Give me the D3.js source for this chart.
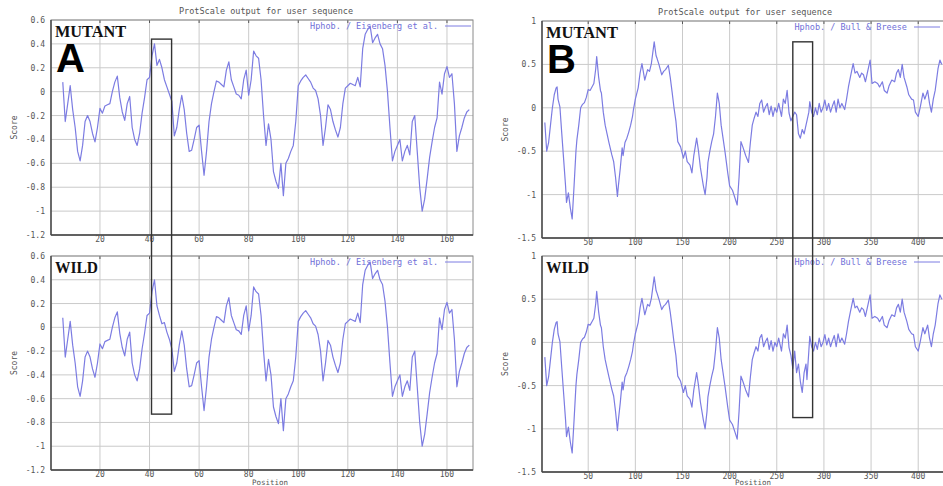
<!DOCTYPE html>
<html>
  <head>
    <meta charset="utf-8" />
    <script src="https://d3js.org/d3.v7.min.js"></script>
    <style>
      body { margin: 0; background: #fff; }
      .tick-label { font-family: "DejaVu Sans Mono", monospace; font-size: 8px; fill: #555; }
      .title { font-family: "DejaVu Sans Mono", monospace; font-size: 8.5px; fill: #555; }
      .xlabel { font-family: "DejaVu Sans Mono", monospace; font-size: 7.5px; fill: #555; }
      .legend { font-family: "DejaVu Sans Mono", monospace; font-size: 8.5px; fill: #7070d8; }
      .grid { stroke: #cacaca; stroke-width: 1; }
      .frame { fill: none; stroke: #8a8a8a; stroke-width: 1; }
      .axis-line { stroke: #444; stroke-width: 1.4; }
      .curve { fill: none; stroke: #7c7ce2; stroke-width: 1.2; stroke-linejoin: round; }
      .box { fill: none; stroke: #333; stroke-width: 1.4; }
      .name { font-family: "Liberation Serif", "DejaVu Serif", serif; font-weight: bold; font-size: 16px; fill: #111; }
      .letter { font-family: "Liberation Sans", Arial, sans-serif; font-weight: bold; font-size: 40px; fill: #000; }
    </style>
  </head>
  <body>

    <svg id="chart" width="943" height="486"></svg>

    <script>

      // ---- panel A : Hphob. / Eisenberg et al.
      var posA = [5, 6, 7, 8, 9, 10, 11, 12, 13, 14, 15, 16, 17, 18, 19, 20, 21, 22, 23, 24,
        25, 26, 27, 28, 29, 30, 31, 32, 33, 34, 35, 36, 37, 38, 39, 40, 41, 42, 43, 44,
        45, 46, 47, 48, 49, 50, 51, 52, 53, 54, 55, 56, 57, 58, 59, 60, 61, 62, 63, 64,
        65, 66, 67, 68, 69, 70, 71, 72, 73, 74, 75, 76, 77, 78, 79, 80, 81, 82, 83, 84,
        85, 86, 87, 88, 89, 90, 91, 92, 93, 94, 95, 96, 97, 98, 99, 100, 101, 102, 103, 104,
        105, 106, 107, 108, 109, 110, 111, 112, 113, 114, 115, 116, 117, 118, 119, 120, 121, 122, 123, 124,
        125, 126, 127, 128, 129, 130, 131, 132, 133, 134, 135, 136, 137, 138, 139, 140, 141, 142, 143, 144,
        145, 146, 147, 148, 149, 150, 151, 152, 153, 154, 155, 156, 157, 158, 159, 160, 161, 162, 163, 164,
        165, 166, 167, 168, 169];

      var mutantA = [0.08, -0.25, -0.1, 0.05, -0.15, -0.3, -0.5, -0.58, -0.45, -0.25, -0.2, -0.25, -0.35, -0.42, -0.3, -0.14, -0.18, -0.12, -0.11, -0.1,
        0.0, 0.08, 0.13, -0.05, -0.17, -0.24, -0.1, -0.04, -0.3, -0.4, -0.45, -0.35, -0.18, -0.05, 0.1, 0.12, 0.3, 0.4, 0.22, 0.27,
        0.2, 0.1, 0.04, -0.02, -0.08, -0.37, -0.3, -0.15, -0.03, -0.15, -0.35, -0.5, -0.49, -0.4, -0.3, -0.28, -0.5, -0.7, -0.5, -0.25,
        -0.1, 0.0, 0.09, 0.08, 0.06, 0.04, 0.18, 0.25, 0.1, 0.04, -0.02, -0.03, -0.06, 0.1, 0.18, -0.03, 0.1, 0.34, 0.3, 0.28,
        0.1, -0.2, -0.45, -0.27, -0.4, -0.67, -0.75, -0.81, -0.6, -0.87, -0.6, -0.56, -0.5, -0.45, -0.25, 0.05, 0.09, 0.12, 0.14, 0.11,
        0.08, 0.03, 0.01, -0.06, -0.2, -0.45, -0.3, -0.11, -0.15, -0.25, -0.32, -0.38, -0.3, -0.1, 0.03, 0.05, 0.07, 0.06, 0.05, 0.12,
        0.04, 0.36, 0.48, 0.52, 0.55, 0.41, 0.45, 0.48, 0.4, 0.36, 0.22, 0.0, -0.3, -0.58, -0.5, -0.45, -0.4, -0.58, -0.5, -0.45,
        -0.53, -0.25, -0.2, -0.5, -0.8, -1.0, -0.9, -0.73, -0.55, -0.42, -0.3, -0.22, 0.08, -0.02, 0.15, 0.21, 0.12, 0.15, -0.1, -0.5,
        -0.37, -0.3, -0.22, -0.17, -0.15];

      // wild type differs only around the mutated residue (positions 43-49)
      var wildA = mutantA.map(function(v, i) {
        var diff = { 43: 0.18, 44: 0.1, 45: 0.03, 46: 0.04, 47: -0.04, 48: -0.1, 49: -0.18 };
        return diff[posA[i]] !== undefined ? diff[posA[i]] : v;
      });

      var yTicksA = [0.6, 0.4, 0.2, 0, -0.2, -0.4, -0.6, -0.8, -1, -1.2];
      var xTicksA = [20, 40, 60, 80, 100, 120, 140, 160];

      // ---- panel B : Hphob. / Bull & Breese
      var posB = [4, 6, 8, 10, 12, 14, 16, 17, 18, 20, 22, 24, 26, 27, 29, 31, 33, 35, 37, 38,
        40, 42, 44, 46, 48, 50, 52, 54, 56, 58, 59, 61, 63, 64, 66, 68, 70, 72, 75, 77,
        79, 81, 82, 84, 86, 87, 89, 91, 93, 95, 97, 98, 100, 103, 105, 107, 110, 112, 113, 115,
        117, 120, 122, 123, 125, 128, 130, 132, 135, 137, 139, 141, 143, 145, 148, 151, 153, 155, 158, 160,
        162, 165, 167, 169, 172, 174, 176, 177, 179, 181, 183, 185, 187, 189, 191, 193, 195, 198, 200, 203,
        206, 208, 210, 212, 214, 217, 220, 222, 224, 226, 228, 230, 232, 234, 236, 238, 240, 242, 244, 246,
        248, 250, 252, 255, 257, 259, 261, 263, 265, 267, 269, 271, 273, 275, 277, 279, 281, 282, 284, 285,
        287, 289, 291, 293, 295, 297, 299, 301, 303, 305, 307, 309, 311, 313, 315, 317, 319, 322, 324, 326,
        328, 331, 333, 335, 338, 340, 342, 344, 346, 349, 351, 354, 357, 359, 362, 364, 367, 369, 372, 375,
        377, 379, 381, 383, 385, 388, 390, 393, 395, 397, 400, 402, 405, 407, 410, 412, 414, 416, 418, 421,
        423, 425];

      var wildB = [-0.17, -0.5, -0.4, -0.2, 0.0, 0.15, 0.23, 0.24, 0.1, 0.01, -0.3, -0.6, -0.9, -1.09, -0.98, -1.15, -1.28, -0.9, -0.5, -0.37,
        -0.2, 0.0, 0.04, 0.06, 0.12, 0.21, 0.2, 0.24, 0.28, 0.45, 0.59, 0.36, 0.2, 0.17, -0.05, -0.2, -0.3, -0.4, -0.54, -0.62,
        -0.8, -1.02, -0.9, -0.7, -0.46, -0.55, -0.4, -0.35, -0.28, -0.2, -0.1, -0.02, 0.1, 0.23, 0.4, 0.51, 0.32, 0.4, 0.44, 0.42,
        0.51, 0.76, 0.6, 0.57, 0.5, 0.38, 0.42, 0.44, 0.49, 0.35, 0.18, 0.0, -0.15, -0.39, -0.45, -0.58, -0.5, -0.62, -0.66, -0.75,
        -0.55, -0.35, -0.5, -0.69, -0.89, -1.0, -0.8, -0.63, -0.5, -0.39, -0.3, -0.1, 0.17, 0.05, -0.2, -0.35, -0.5, -0.75, -0.9, -0.95,
        -1.05, -1.12, -0.8, -0.39, -0.45, -0.55, -0.63, -0.4, -0.2, -0.12, -0.05, -0.1, 0.05, 0.09, -0.05, 0.01, 0.05, -0.08, 0.02, -0.1,
        0.0, -0.05, 0.05, -0.1, 0.1, 0.05, 0.2, -0.06, -0.15, -0.3, -0.1, -0.35, -0.25, -0.45, -0.58, -0.35, -0.25, -0.43, -0.1, 0.07,
        -0.05, -0.1, 0.0, -0.08, 0.05, -0.05, 0.0, 0.09, -0.03, 0.05, -0.05, 0.02, 0.08, -0.05, 0.1, 0.0, 0.05, -0.02, 0.1, 0.24,
        0.35, 0.51, 0.4, 0.42, 0.35, 0.4, 0.38, 0.3, 0.4, 0.55, 0.28, 0.3, 0.28, 0.24, 0.3, 0.2, 0.17, 0.25, 0.32, 0.3,
        0.4, 0.44, 0.35, 0.5, 0.35, 0.24, 0.15, 0.1, 0.09, -0.05, -0.1, 0.0, 0.17, 0.1, 0.2, 0.05, -0.05, 0.1, 0.2, 0.45,
        0.55, 0.5];

      // mutant differs only inside the boxed window (positions 267-284)
      var mutantB = wildB.map(function(v, i) {
        var diff = { 267: -0.1, 269: -0.05, 271: -0.08, 273: -0.3, 275: -0.35, 277: -0.25, 279: -0.3, 281: -0.2, 282: -0.15, 284: -0.05 };
        return diff[posB[i]] !== undefined ? diff[posB[i]] : v;
      });

      var yTicksB = [1, 0.5, 0, -0.5, -1, -1.5];
      var xTicksB = [50, 100, 150, 200, 250, 300, 350, 400];

      var svg = d3.select("#chart");
      var defs = svg.append("defs");
      var clipId = 0;

      function drawPlot(o) {
        var g = svg.append("g");
        var x = o.x, y = o.y;
        var x0 = x.range()[0], x1 = x.range()[1];
        var y0 = y.range()[1], y1 = y.range()[0];

        // grid
        g.selectAll(".gy").data(o.yTicks).enter().append("line")
          .attr("class", "grid")
          .attr("x1", x0).attr("x2", x1)
          .attr("y1", function(d) { return y(d); })
          .attr("y2", function(d) { return y(d); });
        g.selectAll(".gx").data(o.xTicks).enter().append("line")
          .attr("class", "grid")
          .attr("x1", function(d) { return x(d); })
          .attr("x2", function(d) { return x(d); })
          .attr("y1", y0).attr("y2", y1);

        // small mirrored ticks at top
        g.selectAll(".tt").data(o.xTicks).enter().append("line")
          .attr("stroke", "#555")
          .attr("x1", function(d) { return x(d); })
          .attr("x2", function(d) { return x(d); })
          .attr("y1", y0).attr("y2", y0 + 3);

        g.append("rect").attr("class", "frame")
          .attr("x", x0).attr("y", y0)
          .attr("width", x1 - x0).attr("height", y1 - y0);
        g.append("line").attr("class", "axis-line")
          .attr("x1", x0).attr("x2", x0).attr("y1", y0).attr("y2", y1);
        g.append("line").attr("class", "axis-line")
          .attr("x1", x0).attr("x2", x1).attr("y1", y1).attr("y2", y1);

        // tick labels
        g.selectAll(".yl").data(o.yTicks).enter().append("text")
          .attr("class", "tick-label")
          .attr("text-anchor", "end")
          .attr("x", x0 - 6)
          .attr("y", function(d) { return y(d) + 3; })
          .text(function(d) { return d3.format("")(d).replace("\u2212", "-"); });
        g.selectAll(".xl").data(o.xTicks).enter().append("text")
          .attr("class", "tick-label")
          .attr("text-anchor", "middle")
          .attr("x", function(d) { return x(d); })
          .attr("y", y1 + 7)
          .text(function(d) { return d; });

        g.append("text").attr("class", "tick-label")
          .attr("transform", "translate(" + (x0 - 34) + "," + ((y0 + y1) / 2) + ") rotate(-90)")
          .attr("text-anchor", "middle")
          .text("Score");

        if (o.showTitle) {
          g.append("text").attr("class", "title")
            .attr("x", o.titleX).attr("y", y0 - 6)
            .attr("text-anchor", "middle")
            .text("ProtScale output for user sequence");
        }
        if (o.showXLabel) {
          g.append("text").attr("class", "xlabel")
            .attr("x", o.titleX).attr("y", 485)
            .attr("text-anchor", "middle")
            .text("Position");
        }

        // legend
        g.append("text").attr("class", "legend")
          .attr("x", o.legendX).attr("y", y0 + 9)
          .attr("text-anchor", "end")
          .text(o.legend);
        g.append("line")
          .attr("stroke", "#7c7ce2").attr("stroke-width", 1)
          .attr("x1", o.legendX + 7).attr("x2", o.legendX + 33)
          .attr("y1", y0 + 6).attr("y2", y0 + 6);

        // curve
        clipId++;
        defs.append("clipPath").attr("id", "clip" + clipId)
          .append("rect").attr("x", x0).attr("y", y0)
          .attr("width", x1 - x0).attr("height", y1 - y0);
        var line = d3.line()
          .x(function(d) { return x(d[0]); })
          .y(function(d) { return y(d[1]); });
        g.append("path").attr("class", "curve")
          .attr("clip-path", "url(#clip" + clipId + ")")
          .datum(d3.zip(o.pos, o.values))
          .attr("d", line);

        // panel names
        g.append("text").attr("class", "name")
          .attr("x", x0 + 4).attr("y", y0 + 17)
          .attr("textLength", o.nameWidth).attr("lengthAdjust", "spacingAndGlyphs")
          .text(o.name);
        if (o.letter) {
          g.append("text").attr("class", "letter")
            .attr("x", x0 + 5).attr("y", y0 + 52)
            .text(o.letter);
        }
      }

      // panel A scales
      var xA = d3.scaleLinear().domain([0.25, 170.5]).range([51, 473]);
      var yAm = d3.scaleLinear().domain([-1.2, 0.6]).range([235, 20]);
      var yAw = d3.scaleLinear().domain([-1.2, 0.6]).range([470, 256]);
      // panel B scales
      var xB = d3.scaleLinear().domain([1, 430]).range([542, 946.5]);
      var yBm = d3.scaleLinear().domain([-1.5, 1]).range([238, 21]);
      var yBw = d3.scaleLinear().domain([-1.5, 1]).range([472, 256]);

      drawPlot({ x: xA, y: yAm, yTicks: yTicksA, xTicks: xTicksA, pos: posA, values: mutantA,
        name: "MUTANT", nameWidth: 71, letter: "A", legend: "Hphob. / Eisenberg et al.", legendX: 438,
        showTitle: true, titleX: 266 });
      drawPlot({ x: xA, y: yAw, yTicks: yTicksA, xTicks: xTicksA, pos: posA, values: wildA,
        name: "WILD", nameWidth: 43, legend: "Hphob. / Eisenberg et al.", legendX: 438,
        showXLabel: true, titleX: 270 });
      drawPlot({ x: xB, y: yBm, yTicks: yTicksB, xTicks: xTicksB, pos: posB, values: mutantB,
        name: "MUTANT", nameWidth: 72, letter: "B", legend: "Hphob. / Bull & Breese", legendX: 907,
        showTitle: true, titleX: 745 });
      drawPlot({ x: xB, y: yBw, yTicks: yTicksB, xTicks: xTicksB, pos: posB, values: wildB,
        name: "WILD", nameWidth: 43, legend: "Hphob. / Bull & Breese", legendX: 907,
        showXLabel: true, titleX: 753 });

      // highlight boxes spanning mutant (top) and wild (bottom) plots
      var boxA = { from: 40.8, to: 48.9, top: 0.44, bottom: -0.73 };
      var boxB = { from: 267, to: 288, top: 0.76, bottom: -0.87 };
      svg.append("rect").attr("class", "box")
        .attr("x", xA(boxA.from)).attr("y", yAm(boxA.top))
        .attr("width", xA(boxA.to) - xA(boxA.from))
        .attr("height", yAw(boxA.bottom) - yAm(boxA.top));
      svg.append("rect").attr("class", "box")
        .attr("x", xB(boxB.from)).attr("y", yBm(boxB.top))
        .attr("width", xB(boxB.to) - xB(boxB.from))
        .attr("height", yBw(boxB.bottom) - yBm(boxB.top));

    </script>

  </body>
</html>
